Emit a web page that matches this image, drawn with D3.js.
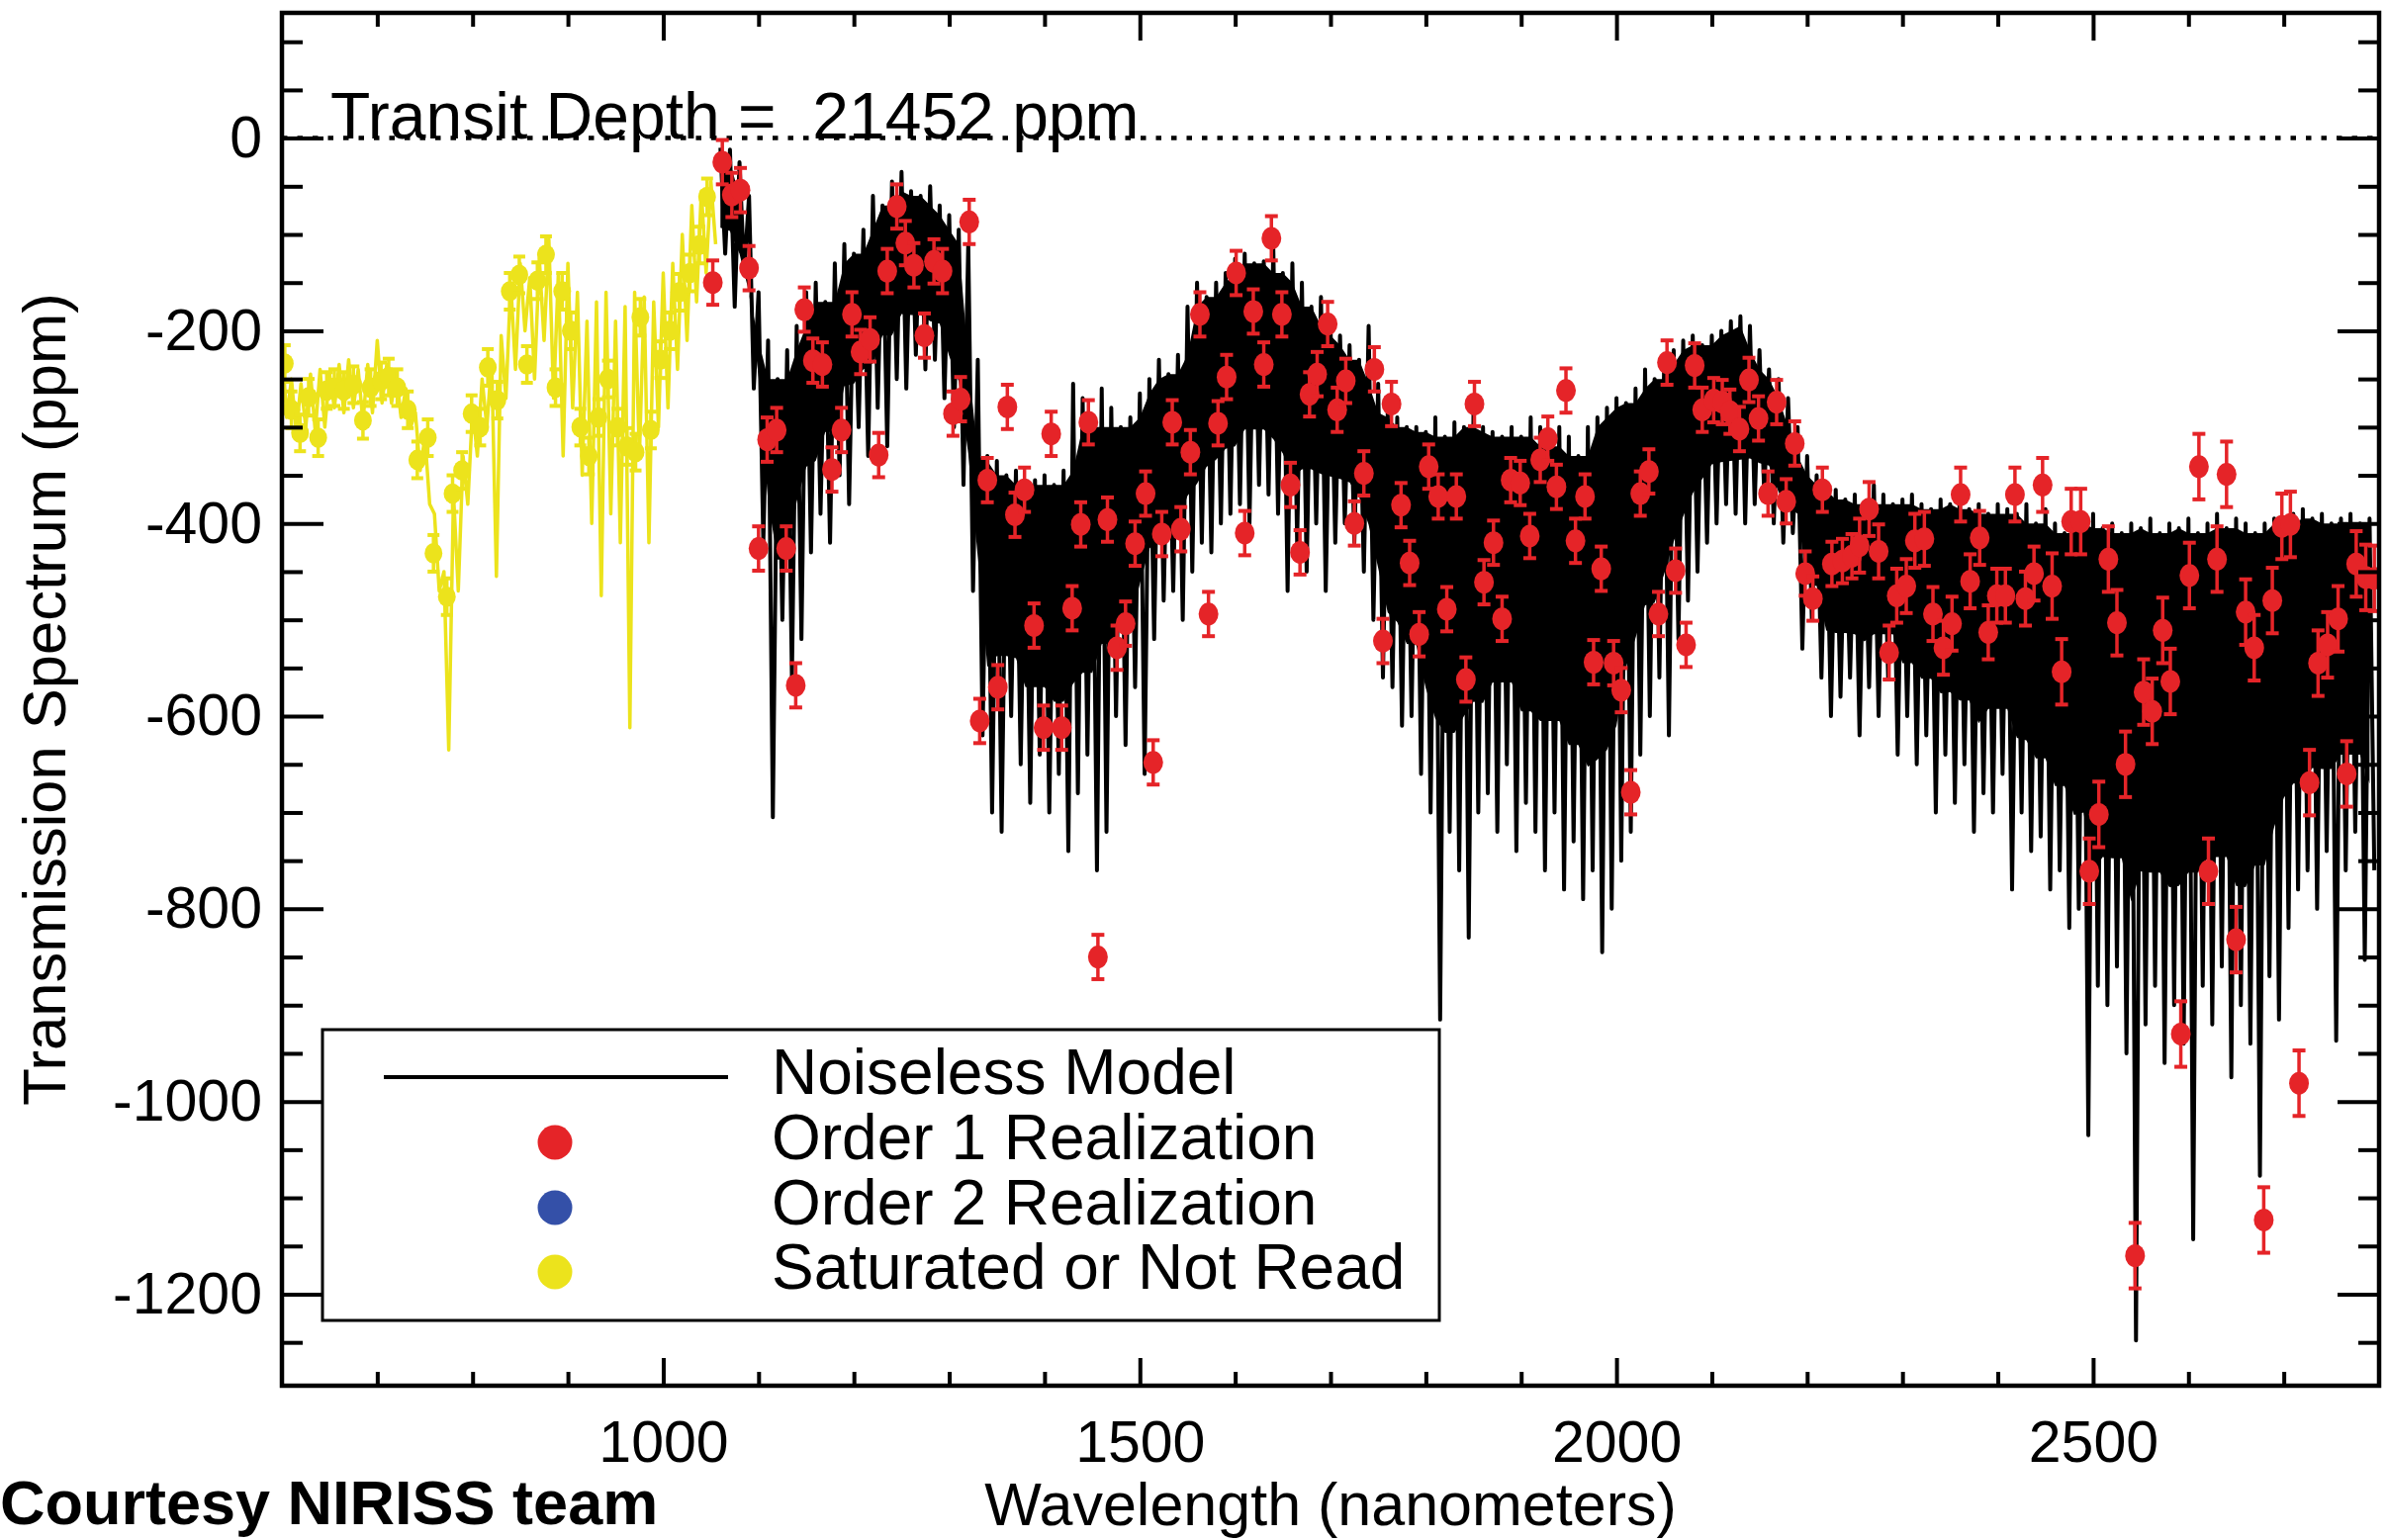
<!DOCTYPE html>
<html>
<head>
<meta charset="utf-8">
<script src="https://cdn.jsdelivr.net/npm/d3@7"></script>
<style>
  body { margin: 0; background: #fff; }
  svg { display: block; }
  text { font-family: "Liberation Sans", Arial, Helvetica, sans-serif; fill: #000; }
</style>
</head>
<body>
<svg id="chart" width="2413" height="1557"></svg>
<script>
// ---- axis ticks ----
var xMajor = [1000, 1500, 2000, 2500];
var xMinor = [700, 800, 900, 1100, 1200, 1300, 1400, 1600, 1700, 1800, 1900, 2100, 2200, 2300, 2400, 2600, 2700];
var yMajor = [0, -200, -400, -600, -800, -1000, -1200];
var yMinor = [100, 50, -50, -100, -150, -250, -300, -350, -450, -500, -550, -650, -700, -750,
              -850, -900, -950, -1050, -1100, -1150, -1250];

// ---- noiseless model (black): upper / lower excursions every 10 nm from 1060 nm ----
var modelStart = 1060, modelStep = 10;
var modelHi = [-10,-12,-25,-60,-160,-210,-250,-220,-195,-160,-150,-170,-130,-110,-120,-95,-60,-70,-45,-35,
  -55,-60,-50,-70,-80,-95,-110,-230,-330,-335,-350,-345,-360,-355,-350,-360,-345,-255,-270,-300,
  -260,-280,-300,-290,-265,-250,-230,-245,-225,-175,-150,-165,-150,-140,-125,-120,-130,-128,-115,-140,
  -130,-150,-175,-165,-195,-205,-215,-230,-195,-255,-285,-290,-300,-300,-305,-290,-310,-295,-300,-285,
  -300,-305,-310,-300,-310,-290,-300,-320,-300,-310,-330,-300,-290,-280,-270,-275,-260,-240,-250,-235,
  -220,-210,-205,-215,-205,-200,-190,-185,-195,-220,-240,-250,-270,-300,-330,-350,-360,-365,-375,-370,
  -380,-360,-370,-380,-375,-370,-380,-385,-375,-380,-370,-385,-380,-390,-380,-385,-390,-380,-400,-385,
  -400,-410,-395,-400,-390,-405,-400,-410,-400,-405,-395,-410,-400,-405,-395,-410,-400,-390,-405,-395,
  -400,-410,-400,-395,-400,-390,-385,-395,-390,-400,-395,-390,-400,-395];
var modelLo = [-120,-175,-140,-260,-420,-705,-500,-560,-520,-430,-390,-420,-350,-380,-300,-330,-280,-320,-250,-260,
  -225,-240,-230,-270,-300,-360,-470,-620,-700,-720,-600,-650,-690,-640,-700,-660,-740,-680,-640,-760,
  -720,-600,-630,-570,-660,-520,-480,-470,-500,-450,-420,-430,-400,-390,-380,-400,-360,-370,-390,-470,
  -420,-450,-400,-470,-420,-400,-420,-450,-500,-560,-570,-610,-600,-660,-700,-915,-720,-760,-830,-700,
  -680,-720,-650,-740,-690,-720,-760,-700,-780,-730,-790,-760,-845,-800,-750,-720,-640,-600,-560,-620,
  -520,-480,-450,-420,-400,-380,-390,-400,-380,-370,-400,-420,-410,-530,-500,-560,-600,-580,-560,-620,
  -570,-600,-560,-640,-600,-650,-620,-700,-640,-690,-650,-720,-680,-700,-660,-780,-700,-740,-725,-780,
  -760,-820,-800,-1035,-880,-900,-860,-950,-1248,-920,-880,-960,-900,-940,-1143,-880,-920,-860,-975,-900,
  -940,-1077,-870,-915,-820,-780,-760,-800,-740,-937,-760,-720,-853,-760];

// ---- saturated / not read model (yellow): every 10 nm from 600 nm ----
var satStart = 600, satStep = 10;
var satHi = [-215,-250,-255,-245,-240,-245,-235,-230,-240,-235,-210,-235,-245,-260,-285,-310,-390,-450,-370,-330,
  -280,-250,-230,-205,-150,-130,-145,-125,-105,-140,-130,-160,-190,-170,-160,-190,-175,-160,-165,-170,
  -140,-130,-100,-70,-55,-45];
var satLo = [-290,-305,-300,-305,-300,-280,-285,-280,-295,-285,-275,-275,-290,-300,-345,-380,-470,-635,-470,-380,
  -330,-300,-455,-270,-240,-200,-250,-210,-270,-330,-280,-350,-400,-475,-390,-420,-612,-330,-420,-300,
  -280,-240,-210,-170,-140,-110];

// ---- saturated realization points (yellow) ----
var satWave = [603,610,619,628,638,647,655,665,675,685,693,704,712,721,732,742,753,759,773,779,
  789,799,808,816,826,839,849,857,868,877,887,894,903,913,922,932,942,952,962,971,
  976,987,997,1007,1017,1028,1038,1046];
var satVal = [-234,-282,-306,-269,-311,-262,-259,-262,-256,-293,-259,-252,-248,-259,-282,-334,-311,-431,-476,-369,
  -345,-286,-300,-238,-272,-159,-142,-235,-148,-121,-259,-159,-200,-300,-330,-290,-250,-300,-320,-326,
  -186,-303,-230,-200,-160,-140,-111,-61];
var satErr = 19;

// ---- order 1 realization points (red) ----
var o1Wave = [1052,1062,1072,1081,1090,1100,1109,1119,1129,1139,1148,1157,1167,1177,1187,1198,1207,1217,1226,1235,
  1245,1254,1263,1274,1284,1293,1304,1312,1321,1332,1340,1351,1361,1369,1379,1389,1399,1407,1418,1429,
  1438,1446,1456,1466,1476,1485,1495,1506,1514,1523,1534,1543,1553,1563,1572,1582,1591,1601,1610,1619,
  1630,1638,1649,1658,1668,1678,1686,1697,1707,1716,1725,1735,1746,1755,1764,1774,1783,1793,1803,1813,
  1822,1832,1842,1851,1861,1871,1880,1889,1899,1909,1920,1928,1937,1947,1957,1967,1976,1984,1997,2005,
  2015,2025,2034,2044,2053,2062,2073,2082,2090,2102,2111,2119,2129,2139,2149,2159,2168,2178,2187,2198,
  2206,2216,2226,2237,2247,2255,2265,2275,2286,2294,2304,2313,2323,2332,2343,2352,2361,2371,2381,2390,
  2399,2408,2418,2429,2438,2447,2457,2467,2477,2487,2496,2506,2516,2525,2534,2544,2553,2562,2573,2581,
  2592,2601,2611,2621,2630,2640,2650,2660,2669,2679,2688,2698,2707,2716,2727,2736,2746,2757,2766,2776,
  2786,2795];
var o1Val = [-150,-25,-59,-54,-135,-426,-313,-303,-426,-568,-178,-231,-235,-344,-303,-183,-222,-209,-329,-138,
  -71,-109,-132,-205,-128,-138,-286,-271,-87,-605,-355,-570,-279,-391,-365,-506,-612,-307,-612,-488,
  -401,-295,-850,-396,-529,-504,-421,-369,-648,-411,-295,-406,-326,-183,-494,-296,-248,-140,-410,-180,
  -235,-104,-183,-360,-430,-266,-245,-193,-282,-252,-400,-348,-240,-522,-276,-381,-441,-515,-341,-372,
  -489,-372,-562,-276,-461,-420,-499,-355,-358,-413,-334,-312,-362,-262,-418,-372,-544,-447,-545,-573,
  -679,-369,-346,-494,-233,-449,-526,-236,-282,-272,-274,-284,-302,-251,-291,-369,-274,-377,-317,-452,
  -478,-365,-442,-439,-434,-423,-385,-429,-534,-475,-465,-418,-416,-494,-529,-504,-370,-460,-415,-513,
  -475,-475,-370,-478,-452,-360,-465,-554,-398,-398,-761,-702,-437,-503,-650,-1160,-575,-595,-511,-564,
  -930,-454,-341,-761,-437,-349,-832,-492,-529,-1123,-480,-403,-401,-981,-669,-545,-526,-499,-660,-442,
  -456,-457];
// error bar half-length grows toward the red end: [from wavelength, ppm]
var o1ErrSteps = [[1000, 23], [2250, 28], [2450, 34]];

var legendLabels = ["Noiseless Model", "Order 1 Realization", "Order 2 Realization", "Saturated or Not Read"];
var legendColors = [null, "#e52428", "#3450a8", "#ece31c"];

var RED = "#e52428", YEL = "#ece31c";

var svg = d3.select('#chart');
var x = d3.scaleLinear().domain([600, 2800]).range([285, 2405]);
var y = d3.scaleLinear().domain([130, -1295]).range([13, 1401]);

var plot = svg.append('g');
svg.append('defs').append('clipPath').attr('id', 'clip')
  .append('rect').attr('x', 285).attr('y', 13).attr('width', 2120).attr('height', 1388);

// dotted zero line
plot.append('line')
  .attr('x1', x(600)).attr('x2', x(2800))
  .attr('y1', y(0)).attr('y2', y(0))
  .attr('stroke', '#000').attr('stroke-width', 4.5)
  .attr('stroke-dasharray', '5.5,10');

svg.append('text')
  .attr('x', 334).attr('y', y(0))
  .attr('font-size', 66)
  .attr('xml:space', 'preserve')
  .style('white-space', 'pre')
  .text('Transit Depth =  21452 ppm');

// zigzag between the upper and lower excursions
function zigzag(start, step, hi, lo) {
  var pts = [];
  for (var i = 0; i < hi.length; i++) {
    pts.push([start + i * step, hi[i]]);
    pts.push([start + i * step + step / 2, lo[i]]);
  }
  return pts;
}
var lineGen = d3.line().x(function(d) { return x(d[0]); }).y(function(d) { return y(d[1]); });

var data = plot.append('g').attr('clip-path', 'url(#clip)');

// dense core of the model: filled from the lowest neighbouring top excursion down
// part of the way to the shallowest neighbouring bottom one; the rest shows as lines
var CORE_DEPTH = 0.75;
function drawCore(start, step, hi, lo, color) {
  var n = hi.length;
  var core = hi.map(function(h, i) {
    var a = Math.max(0, i - 1), b = Math.min(n - 1, i + 1);
    var top = Math.min(hi[a], hi[i], hi[b]);
    var bot = Math.max(lo[a], lo[i], lo[b]);
    if (bot > top) bot = top;
    return { w: start + i * step, top: top, bot: top + CORE_DEPTH * (bot - top) };
  });
  data.append('path')
    .attr('d', d3.area()
      .x(function(d) { return x(d.w); })
      .y0(function(d) { return y(d.bot); })
      .y1(function(d) { return y(d.top); })(core))
    .attr('fill', color);
}

function drawSpectrum(start, step, hi, lo, color, width) {
  data.append('path')
    .attr('d', lineGen(zigzag(start, step, hi, lo)))
    .attr('fill', 'none').attr('stroke', color).attr('stroke-width', width)
    .attr('stroke-linejoin', 'round');
}

drawSpectrum(satStart, satStep, satHi, satLo, YEL, 3.5);
drawCore(modelStart, modelStep, modelHi, modelLo, '#000');
drawSpectrum(modelStart, modelStep, modelHi, modelLo, '#000', 4);

function drawPoints(waves, vals, errFn, color, r, cap) {
  var g = data.append('g');
  var pts = waves.map(function(w, i) { return { w: w, v: vals[i], e: errFn(w) }; });
  var sel = g.selectAll('g.pt').data(pts).enter().append('g').attr('class', 'pt');
  sel.append('line')
    .attr('x1', function(d) { return x(d.w); }).attr('x2', function(d) { return x(d.w); })
    .attr('y1', function(d) { return y(d.v + d.e); }).attr('y2', function(d) { return y(d.v - d.e); })
    .attr('stroke', color).attr('stroke-width', 3.5);
  [1, -1].forEach(function(s) {
    sel.append('line')
      .attr('x1', function(d) { return x(d.w) - cap; }).attr('x2', function(d) { return x(d.w) + cap; })
      .attr('y1', function(d) { return y(d.v + s * d.e); }).attr('y2', function(d) { return y(d.v + s * d.e); })
      .attr('stroke', color).attr('stroke-width', 4);
  });
  sel.append('ellipse')
    .attr('cx', function(d) { return x(d.w); }).attr('cy', function(d) { return y(d.v); })
    .attr('rx', r).attr('ry', r * 1.15)
    .attr('fill', color);
}

drawPoints(satWave, satVal, function() { return satErr; }, YEL, 9, 6);
drawPoints(o1Wave, o1Val, function(w) {
  var e = o1ErrSteps[0][1];
  o1ErrSteps.forEach(function(s) { if (w >= s[0]) e = s[1]; });
  return e;
}, RED, 10, 6.5);

// ---- axes ----
function styleAxis(g) {
  g.select('.domain').remove();
  g.selectAll('.tick line').attr('stroke', '#000').attr('stroke-width', 4);
  g.selectAll('.tick text').attr('font-size', 59).attr('font-family', '"Liberation Sans", Arial, sans-serif');
}
var plain = function(d) { return String(d); };
svg.append('g').attr('transform', 'translate(0,1401)')
  .call(d3.axisBottom(x).tickValues(xMajor).tickSize(-28).tickPadding(35).tickFormat(plain))
  .call(styleAxis);
svg.append('g').attr('transform', 'translate(0,1401)')
  .call(d3.axisBottom(x).tickValues(xMinor).tickSize(-14).tickFormat(''))
  .call(styleAxis);
svg.append('g').attr('transform', 'translate(0,13)')
  .call(d3.axisTop(x).tickValues(xMajor).tickSize(-28).tickFormat(''))
  .call(styleAxis);
svg.append('g').attr('transform', 'translate(0,13)')
  .call(d3.axisTop(x).tickValues(xMinor).tickSize(-14).tickFormat(''))
  .call(styleAxis);
svg.append('g').attr('transform', 'translate(285,0)')
  .call(d3.axisLeft(y).tickValues(yMajor).tickSize(-42).tickPadding(20).tickFormat(plain))
  .call(styleAxis);
svg.append('g').attr('transform', 'translate(285,0)')
  .call(d3.axisLeft(y).tickValues(yMinor).tickSize(-21).tickFormat(''))
  .call(styleAxis);
svg.append('g').attr('transform', 'translate(2405,0)')
  .call(d3.axisRight(y).tickValues(yMajor).tickSize(-42).tickFormat(''))
  .call(styleAxis);
svg.append('g').attr('transform', 'translate(2405,0)')
  .call(d3.axisRight(y).tickValues(yMinor).tickSize(-21).tickFormat(''))
  .call(styleAxis);

svg.append('rect')
  .attr('x', 285).attr('y', 13).attr('width', 2120).attr('height', 1388)
  .attr('fill', 'none').attr('stroke', '#000').attr('stroke-width', 4.5);

// axis titles
svg.append('text')
  .attr('x', 1345).attr('y', 1542)
  .attr('text-anchor', 'middle').attr('font-size', 61)
  .text('Wavelength (nanometers)');
svg.append('text')
  .attr('transform', 'translate(66,707) rotate(-90)')
  .attr('text-anchor', 'middle').attr('font-size', 61.5)
  .text('Transmission Spectrum (ppm)');

// ---- legend ----
var lg = svg.append('g');
lg.append('rect')
  .attr('x', 326).attr('y', 1041).attr('width', 1129).attr('height', 294)
  .attr('fill', '#fff').attr('stroke', '#000').attr('stroke-width', 3);
var rowY = [1089, 1155, 1221, 1286];
lg.append('line')
  .attr('x1', 388).attr('x2', 736).attr('y1', rowY[0]).attr('y2', rowY[0])
  .attr('stroke', '#000').attr('stroke-width', 4);
lg.selectAll('ellipse').data(legendColors.slice(1)).enter().append('ellipse')
  .attr('cx', 561).attr('cy', function(d, i) { return rowY[i + 1]; })
  .attr('rx', 17.5).attr('ry', 17.5)
  .attr('fill', function(d) { return d; });
lg.selectAll('text').data(legendLabels).enter().append('text')
  .attr('x', 780).attr('y', function(d, i) { return rowY[i] + 17; })
  .attr('font-size', 64)
  .text(function(d) { return d; });

svg.append('text')
  .attr('x', 0).attr('y', 1541)
  .attr('font-size', 63).attr('font-weight', 'bold')
  .text('Courtesy NIRISS team');
</script>
</body>
</html>
